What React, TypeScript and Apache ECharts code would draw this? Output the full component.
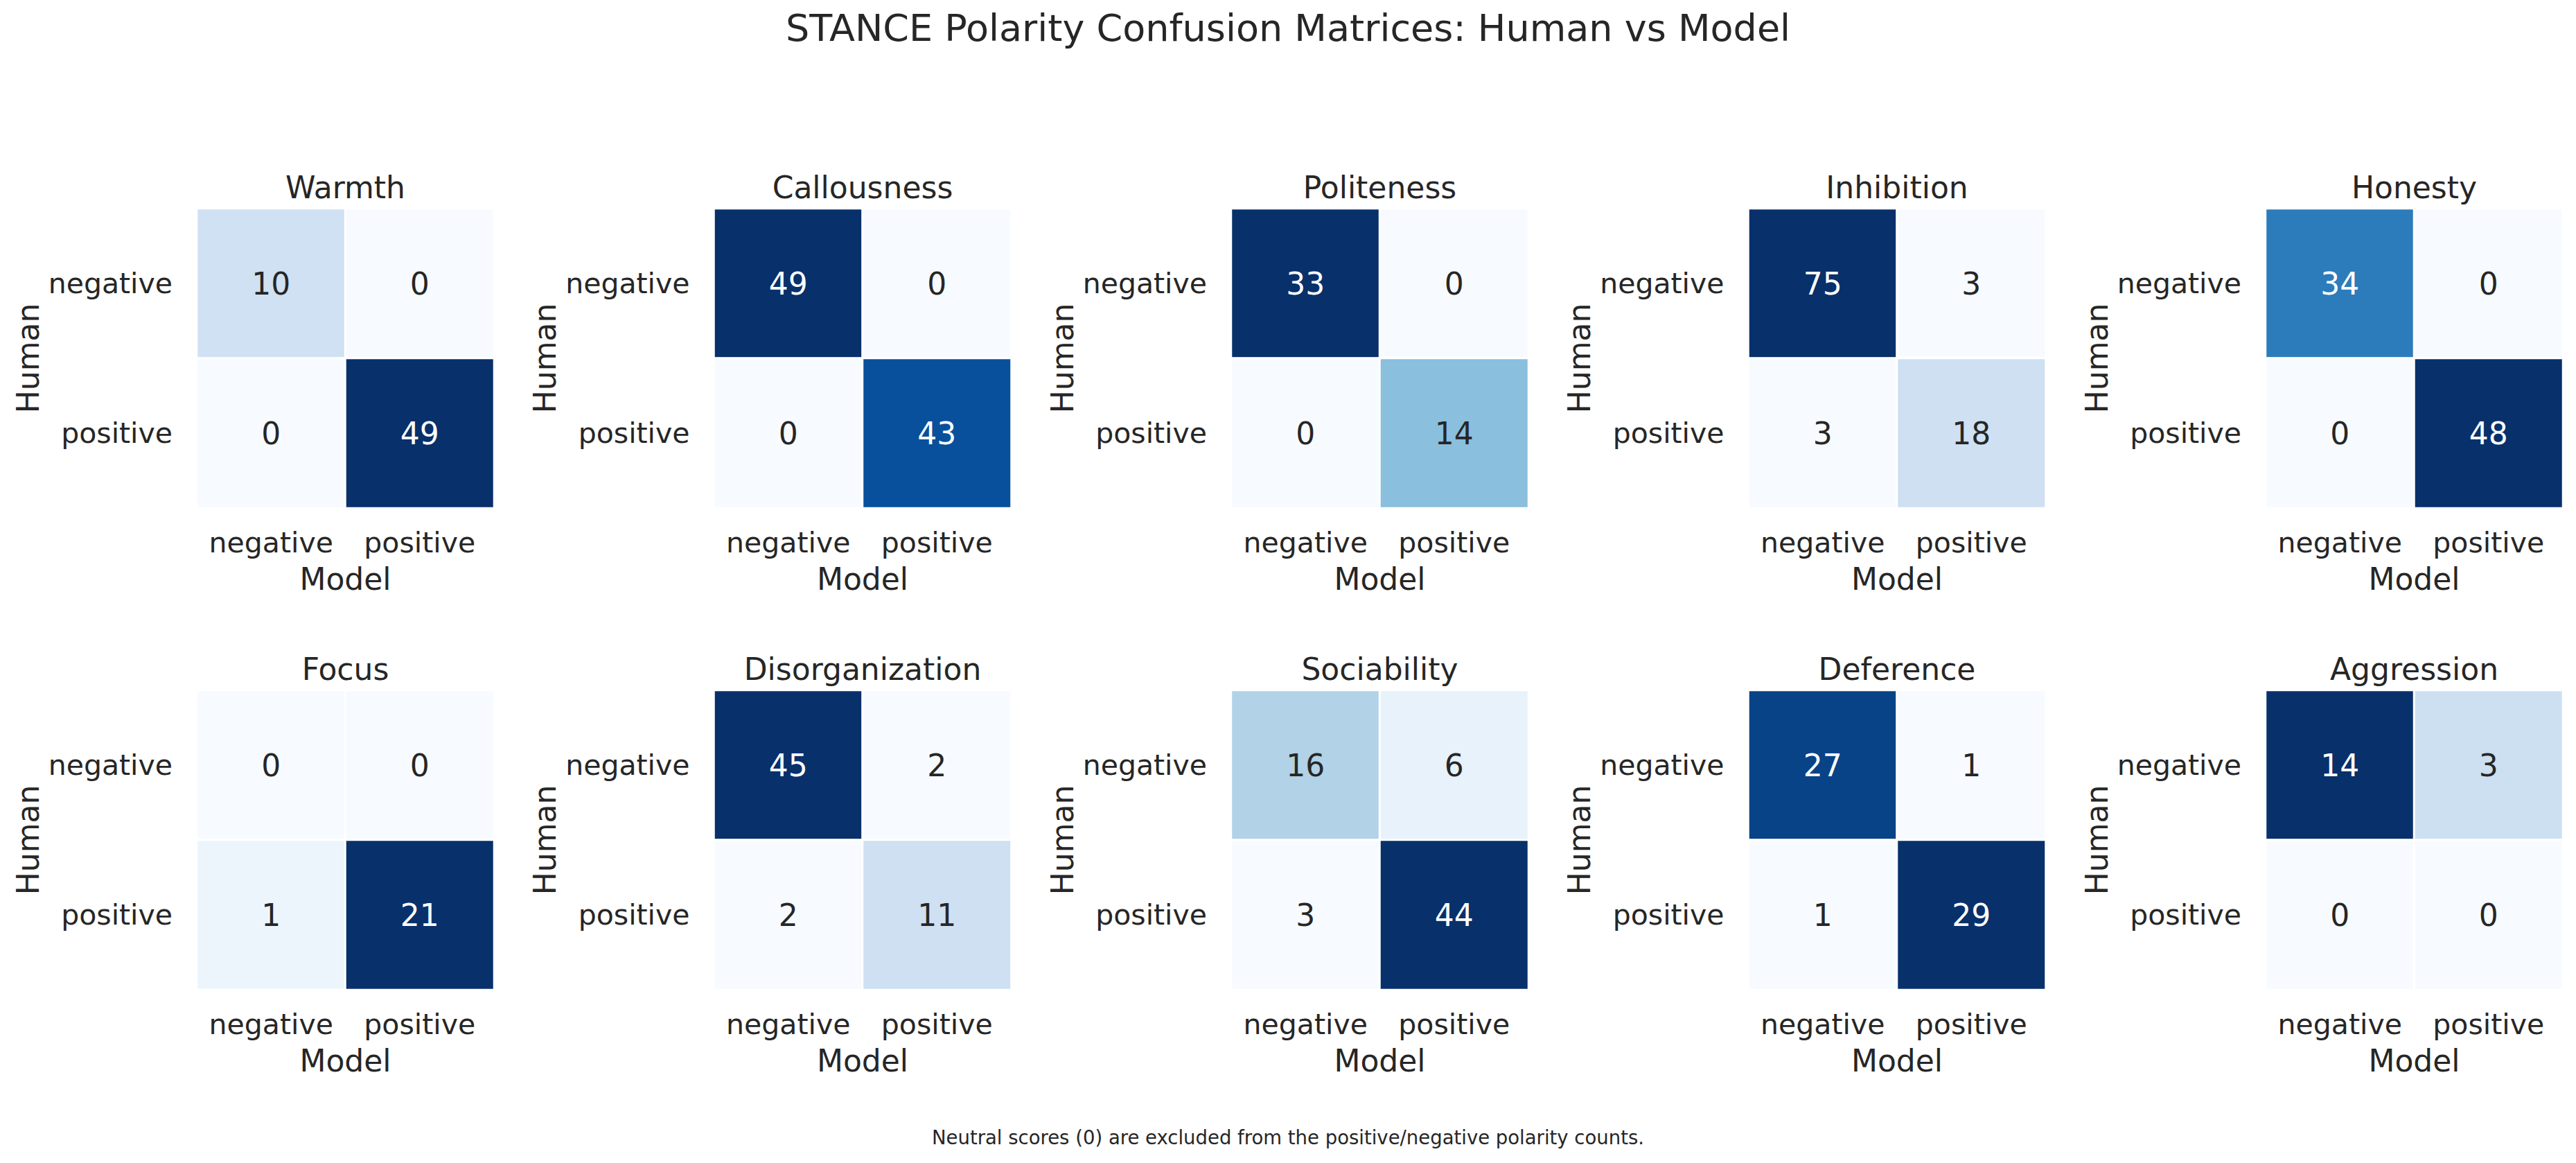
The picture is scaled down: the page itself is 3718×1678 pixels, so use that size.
import React, { useEffect, useRef } from "react";
import * as echarts from "echarts";

// Trait names, in panel order (two rows of five)
const traitNames = [
  "Warmth",
  "Callousness",
  "Politeness",
  "Inhibition",
  "Honesty",
  "Focus",
  "Disorganization",
  "Sociability",
  "Deference",
  "Aggression",
];

// Tick labels shared by both axes
const polarityLabels = ["negative", "positive"];

// Counts: rows = Human polarity, columns = Model polarity
const warmth = [[10, 0], [0, 49]];
const callousness = [[49, 0], [0, 43]];
const politeness = [[33, 0], [0, 14]];
const inhibition = [[75, 3], [3, 18]];
const honesty = [[34, 0], [0, 48]];
const focus = [[0, 0], [1, 21]];
const disorganization = [[45, 2], [2, 11]];
const sociability = [[16, 6], [3, 44]];
const deference = [[27, 1], [1, 29]];
const aggression = [[14, 3], [0, 0]];

const matrices = [
  warmth,
  callousness,
  politeness,
  inhibition,
  honesty,
  focus,
  disorganization,
  sociability,
  deference,
  aggression,
];

const suptitle = "STANCE Polarity Confusion Matrices: Human vs Model";
const footnote =
  "Neutral scores (0) are excluded from the positive/negative polarity counts.";
const xAxisTitle = "Model";
const yAxisTitle = "Human";

// Sequential "Blues" ramp
const BLUES = [
  "#f7fbff",
  "#deebf7",
  "#c6dbef",
  "#9ecae1",
  "#6baed6",
  "#4292c6",
  "#2171b5",
  "#08519c",
  "#08306b",
];

const FONT = "DejaVu Sans";
const INK = "#262626";

const W = 3718;
const H = 1678;

// Panel geometry
const COL_LEFT0 = 284;
const COL_STEP = 746.5;
const ROW_TOPS = [301, 996];
const CELL_W = 429;
const CELL_H = 432;

function hexToRgb(h: string): number[] {
  const n = parseInt(h.slice(1), 16);
  return [(n >> 16) & 255, (n >> 8) & 255, n & 255];
}

function rampColor(t: number): number[] {
  const c = Math.max(0, Math.min(1, t)) * (BLUES.length - 1);
  const i = Math.min(BLUES.length - 2, Math.floor(c));
  const f = c - i;
  const a = hexToRgb(BLUES[i]);
  const b = hexToRgb(BLUES[i + 1]);
  return a.map((v, k) => v + (b[k] - v) * f);
}

function luminance(rgb: number[]): number {
  const lin = rgb.map((v) => {
    const s = v / 255;
    return s <= 0.03928 ? s / 12.92 : Math.pow((s + 0.055) / 1.055, 2.4);
  });
  return 0.2126 * lin[0] + 0.7152 * lin[1] + 0.0722 * lin[2];
}

function centeredText(text: string, x: number, y: number, fontSize: number) {
  return {
    type: "text",
    x,
    y,
    style: {
      text,
      fontSize,
      fontFamily: FONT,
      fill: INK,
      align: "center",
      verticalAlign: "middle",
      textAlign: "center",
      textVerticalAlign: "middle",
    },
  };
}

function buildOption() {
  const grid: any[] = [];
  const xAxis: any[] = [];
  const yAxis: any[] = [];
  const series: any[] = [];
  const visualMap: any[] = [];
  const graphic: any[] = [];

  matrices.forEach((m, idx) => {
    const col = idx % 5;
    const row = Math.floor(idx / 5);
    const left = COL_LEFT0 + col * COL_STEP;
    const top = ROW_TOPS[row];
    const flat = m.flat();
    const vmin = Math.min(...flat);
    const vmax = Math.max(...flat);

    grid.push({ left, top, width: CELL_W, height: CELL_H, containLabel: false });

    xAxis.push({
      type: "category",
      gridIndex: idx,
      data: polarityLabels,
      position: "bottom",
      axisLine: { show: false },
      axisTick: { show: false },
      splitLine: { show: false },
      axisLabel: {
        fontSize: 41,
        color: INK,
        fontFamily: FONT,
        margin: 29,
        interval: 0,
        hideOverlap: false,
      },
      name: xAxisTitle,
      nameLocation: "middle",
      nameGap: 80,
      nameTextStyle: { fontSize: 44, color: INK, fontFamily: FONT },
    });

    yAxis.push({
      type: "category",
      gridIndex: idx,
      data: polarityLabels,
      inverse: true,
      axisLine: { show: false },
      axisTick: { show: false },
      splitLine: { show: false },
      axisLabel: {
        fontSize: 41,
        color: INK,
        fontFamily: FONT,
        margin: 35,
        interval: 0,
      },
      name: yAxisTitle,
      nameLocation: "middle",
      nameGap: 222,
      nameRotate: 90,
      nameTextStyle: { fontSize: 44, color: INK, fontFamily: FONT },
    });

    const data: any[] = [];
    m.forEach((rowVals, r) => {
      rowVals.forEach((v, c) => {
        const t = vmax === vmin ? 0 : (v - vmin) / (vmax - vmin);
        const txt = luminance(rampColor(t)) > 0.408 ? INK : "#ffffff";
        data.push({ value: [c, r, v], label: { color: txt } });
      });
    });

    series.push({
      type: "heatmap",
      name: traitNames[idx],
      xAxisIndex: idx,
      yAxisIndex: idx,
      data,
      label: {
        show: true,
        fontSize: 44,
        fontFamily: FONT,
        formatter: (p: any) => String(p.value[2]),
      },
      itemStyle: { borderColor: "#ffffff", borderWidth: 3 },
      emphasis: { disabled: true },
    });

    visualMap.push({
      type: "continuous",
      show: false,
      seriesIndex: idx,
      dimension: 2,
      min: vmin,
      max: vmax,
      inRange: { color: BLUES },
    });

    graphic.push(centeredText(traitNames[idx], left + CELL_W / 2, top - 31, 44));
  });

  graphic.push(centeredText(suptitle, W / 2, 40, 54));
  graphic.push(centeredText(footnote, W / 2, 1641, 27.5));

  return {
    animation: false,
    backgroundColor: "#ffffff",
    textStyle: { fontFamily: FONT },
    grid,
    xAxis,
    yAxis,
    visualMap,
    series,
    graphic,
  };
}

export default function App() {
  const ref = useRef<HTMLDivElement>(null);

  useEffect(() => {
    document.body.style.margin = "0";
    document.body.style.overflow = "hidden";
    if (!ref.current) return;
    const chart = echarts.init(ref.current, undefined, { renderer: "svg" });
    chart.setOption(buildOption() as any);
    return () => {
      chart.dispose();
    };
  }, []);

  return (
    <div
      ref={ref}
      style={{ position: "absolute", left: 0, top: 0, width: W, height: H }}
    />
  );
}
